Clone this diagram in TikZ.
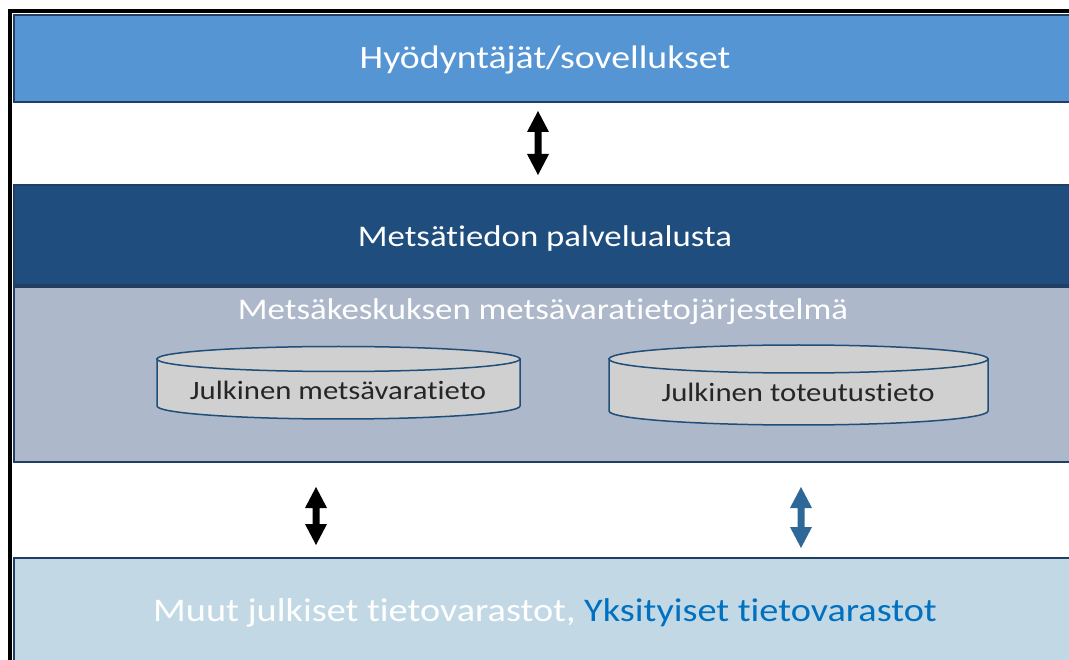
\documentclass[tikz,border=0pt]{standalone}
\usepackage{fontspec}
\setmainfont[FakeStretch=1.16,RawFeature={-liga;-clig;-calt;-dlig}]{Carlito}
\definecolor{topblue}{HTML}{5595D4}
\definecolor{darkblue}{HTML}{1F4E7E}
\definecolor{greyblue}{HTML}{ADB8CA}
\definecolor{paleblue}{HTML}{C2D9E5}
\definecolor{edgeblue}{HTML}{203F62}
\definecolor{cylfill}{HTML}{D0D0D0}
\definecolor{cyledge}{HTML}{1F4E79}
\definecolor{txtblue}{HTML}{0070C0}
\definecolor{arrblue}{HTML}{2E6899}
\tikzset{
  layer/.style={draw=edgeblue, line width=2pt, anchor=north west, inner sep=0pt},
  title/.style={text=white, inner sep=0pt, anchor=base},
  cyl/.style={fill=cylfill, draw=cyledge, line width=1.5pt},
  cyltext/.style={text=black!85, inner sep=0pt, anchor=base, font=\fontsize{26.5}{30}\selectfont},
  pics/dbl/.style={code={
    \fill (0,-#1) -- (11,-#1+21) -- (3.5,-#1+21) -- (3.5,#1-21) -- (11,#1-21) -- (0,#1)
      -- (-11,#1-21) -- (-3.5,#1-21) -- (-3.5,-#1+21) -- (-11,-#1+21) -- cycle;}}
}
\begin{document}
\begin{tikzpicture}[x=1pt,y=-1pt]
\useasboundingbox (0,0) rectangle (1069,660);
% layers
\node[layer, fill=topblue, minimum width=1100pt, minimum height=87pt] (users) at (12.5,14) {};
\node[layer, fill=darkblue, minimum width=1100pt, minimum height=100pt] (platform) at (12.5,184) {};
\node[layer, fill=greyblue, minimum width=1100pt, minimum height=175pt] (system) at (12.5,286) {};
\node[layer, fill=paleblue, minimum width=1100pt, minimum height=120pt] (stores) at (12.5,557) {};
% outer black frame
\fill[black] (8,9) rectangle (12,660);
\fill[black] (8,9) rectangle (1069,13);
% layer titles
\node[title, font=\fontsize{32.6}{36}\selectfont] (tusers) at (545,69) {Hyödyntäjät/sovellukset};
\node[title, font=\fontsize{30}{34}\selectfont] (tplatform) at (545,247) {Metsätiedon palvelualusta};
\node[title, font=\fontsize{30}{34}\selectfont] (tsystem) at (543,320) {Metsäkeskuksen metsävaratietojärjestelmä};
\node[title, font=\fontsize{33}{37}\selectfont] (tstores) at (545,621) {Muut julkiset tietovarastot, \textcolor{txtblue}{Yksityiset tietovarastot}};
% cylinder 1
\path[cyl] (157,359) -- (157,406) arc[start angle=180, end angle=0, x radius=181.5, y radius=13] -- (520,359) -- cycle;
\draw[cyl] (338.5,359) ellipse [x radius=181.5, y radius=12.5];
\node[cyltext] (c1) at (338,400) {Julkinen metsävaratieto};
% cylinder 2
\path[cyl] (609,359) -- (609,411) arc[start angle=180, end angle=0, x radius=189.5, y radius=14] -- (988,359) -- cycle;
\draw[cyl] (798.5,359) ellipse [x radius=189.5, y radius=14];
\node[cyltext] (c2) at (798,402) {Julkinen toteutustieto};
% arrows
\coordinate (a1) at (538,143);
\coordinate (a2) at (316,516);
\coordinate (a3) at (801,517.5);
\pic[black] at (a1) {dbl=32};
\pic[black] at (a2) {dbl=29};
\pic[arrblue] at (a3) {dbl=30.5};
\end{tikzpicture}
\end{document}
